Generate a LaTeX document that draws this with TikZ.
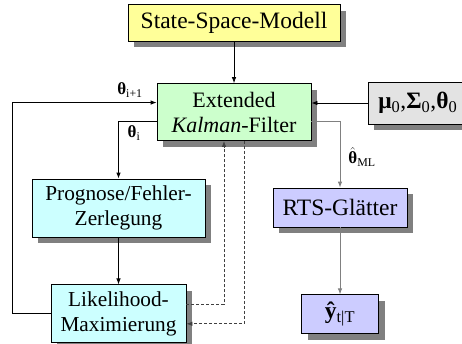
\documentclass[tikz,border=0pt]{standalone}
\usepackage{amsmath}
\usepackage{fontspec}
\setmainfont{Liberation Serif}
\usetikzlibrary{arrows.meta, shadows, calc, positioning}
\definecolor{ssmyellow}{HTML}{FFFF99}
\definecolor{ekfgreen}{HTML}{CCFFCC}
\definecolor{pecyan}{HTML}{CCFFFF}
\definecolor{rtsblue}{HTML}{CCCCFF}
\definecolor{initgray}{HTML}{E3E3E3}
\tikzstyle{block} = [rectangle, draw=black, line width=0.8pt, align=center, inner sep=0pt, font=\fontsize{22}{25}\selectfont, drop shadow={shadow xshift=6pt, shadow yshift=-6pt, fill=gray, opacity=1}]
\tikzstyle{big} = [font=\fontsize{23.5}{26}\selectfont]
\tikzstyle{small} = [font=\fontsize{21.3}{25}\selectfont]
\tikzstyle{arrow} = [line width=0.8pt, -{Latex[length=6pt,width=4.5pt]}]
\tikzstyle{gline} = [arrow, draw=gray]
\tikzstyle{dline} = [arrow, draw=darkgray, dash pattern=on 3pt off 2pt]
\tikzstyle{lbl} = [font=\fontsize{17}{19}\selectfont, inner sep=0pt]
\begin{document}
\begin{tikzpicture}[x=1pt, y=-1pt]
	\useasboundingbox (0,0) rectangle (462,343);
	\node (SSM) [block, big, fill=ssmyellow, minimum width=212pt, minimum height=36.5pt] at (234,23) {State-Space-Modell};
	\node (EKF) [block, fill=ekfgreen, minimum width=154pt, minimum height=57pt, below = 41.5pt of SSM] {Extended\\\textit{Kalman}-Filter};
	\node (Init) [block, big, fill=initgray, anchor=west, text width=84pt, align=left, inner xsep=10pt, minimum height=42pt] at (368,103) {\textbf{μ}\textsubscript{0},\textbf{Σ}\textsubscript{0},\textbf{θ}\textsubscript{0}};
	\node (Prognose) [block, small, fill=pecyan, minimum width=173pt, minimum height=58pt] at (118.5,208) {Prognose/Fehler-\\Zerlegung};
	\node (Likelihood) [block, small, fill=pecyan, minimum width=135pt, minimum height=58pt, below = 47pt of Prognose] {Likelihood-\\Maximierung};
	\node (RTS) [block, big, fill=rtsblue, minimum width=134pt, minimum height=39pt] at (340,207.5) {RTS-Glätter};
	\node (Smooth) [block, big, fill=rtsblue, minimum width=77pt, minimum height=39pt, below = 67pt of RTS] {\textbf{ŷ}\textsubscript{t|T}};
	
	\coordinate (EKFinL) at ($(EKF.west)+(0,-9.5)$);
	\coordinate (EKFoutL) at ($(EKF.west)+(0,9.5)$);
	\coordinate (EKFoutR) at ($(EKF.east)+(0,9.5)$);
	\coordinate (EKFinB) at ($(EKF.south)+(-10,0)$);
	\coordinate (EKFoutB) at ($(EKF.south)+(10,0)$);
	\coordinate (LikeOutR) at ($(Likelihood.east)+(0,-9)$);
	\coordinate (LikeInR) at ($(Likelihood.east)+(0,10)$);
	
	\draw [arrow] (SSM) -- (EKF);
	\draw [arrow] (Init.west) -- (Init.west -| EKF.east);
	\draw [arrow] (Likelihood.west) -- ++(-38,0) |- (EKFinL);
	\draw [arrow] (EKFoutL) -| (Prognose.north);
	\draw [arrow] (Prognose) -- (Likelihood);
	\draw [dline] (LikeOutR) -| (EKFinB);
	\draw [dline] (EKFoutB) |- (LikeInR);
	\draw [gline] (EKFoutR) -| (RTS.north);
	\draw [gline] (RTS) -- (Smooth);
	
	\node (ThetaNext) [lbl] at (130,90) {\textbf{θ}\textsubscript{i+1}};
	\node (ThetaI) [lbl] at (134,133) {\textbf{θ}\textsubscript{i}};
	\node (ThetaML) [lbl] at (362,157) {$\hat{\text{\textbf{θ}}}$\textsubscript{ML}};
\end{tikzpicture}
\end{document}
